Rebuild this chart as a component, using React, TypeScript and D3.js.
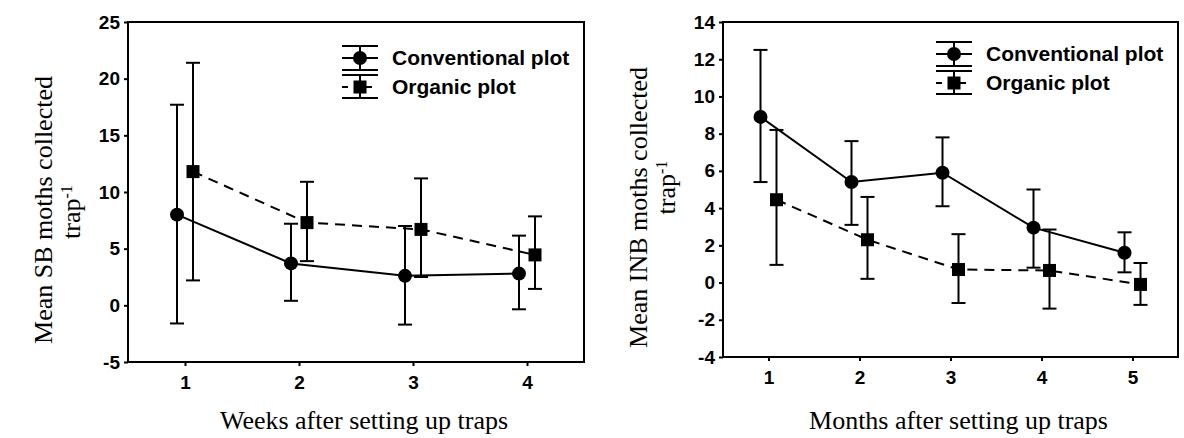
import React, { useEffect, useRef } from 'react';
import * as d3 from 'd3';

// left panel: SB moths, weeks
const weeks = [1, 2, 3, 4];
const sbConvMean = [8.0, 3.7, 2.6, 2.8];
const sbConvLow = [-1.6, 0.4, -1.7, -0.35];
const sbConvHigh = [17.7, 7.2, 7.0, 6.15];
const sbOrgMean = [11.8, 7.3, 6.7, 4.45];
const sbOrgLow = [2.2, 3.9, 2.5, 1.45];
const sbOrgHigh = [21.4, 10.9, 11.2, 7.85];
const sbTicks = [-5, 0, 5, 10, 15, 20, 25];

// right panel: INB moths, months
const months = [1, 2, 3, 4, 5];
const inbConvMean = [8.9, 5.4, 5.9, 2.95, 1.6];
const inbConvLow = [5.4, 3.1, 4.1, 0.8, 0.55];
const inbConvHigh = [12.5, 7.6, 7.8, 5.0, 2.7];
const inbOrgMean = [4.45, 2.3, 0.7, 0.65, -0.1];
const inbOrgLow = [0.95, 0.2, -1.1, -1.4, -1.2];
const inbOrgHigh = [8.2, 4.6, 2.6, 2.85, 1.05];
const inbTicks = [-4, -2, 0, 2, 4, 6, 8, 10, 12, 14];

const seriesNames = ['Conventional plot', 'Organic plot'];

const TICK_FONT = '"Liberation Sans", Arial, sans-serif';
const TITLE_FONT = '"Liberation Serif", "Times New Roman", serif';

type Panel = {
  x: number[];
  xDomain: [number, number];
  xRange: [number, number];
  yDomain: [number, number];
  yRange: [number, number];
  yTicks: number[];
  conv: number[][];
  org: number[][];
  xTitle: string;
  yTitle: string;
  legendTop: number;
  trapShift: number;
};

const panels: Panel[] = [
  {
    x: weeks,
    xDomain: [0.5, 4.5],
    xRange: [128, 584],
    yDomain: [-5, 25],
    yRange: [362, 22],
    yTicks: sbTicks,
    conv: [sbConvMean, sbConvLow, sbConvHigh],
    org: [sbOrgMean, sbOrgLow, sbOrgHigh],
    xTitle: 'Weeks after setting up traps',
    yTitle: 'Mean SB moths collected',
    legendTop: 46,
    trapShift: 2,
  },
  {
    x: months,
    xDomain: [0.5, 5.5],
    xRange: [723, 1178],
    yDomain: [-4, 14],
    yRange: [357, 22],
    yTicks: inbTicks,
    conv: [inbConvMean, inbConvLow, inbConvHigh],
    org: [inbOrgMean, inbOrgLow, inbOrgHigh],
    xTitle: 'Months after setting up traps',
    yTitle: 'Mean INB moths collected',
    legendTop: 42,
    trapShift: -20,
  },
];

const plainNum = (d: any) => String(d); // hyphen minus like the original

const App = () => {
  const svgRef = useRef<SVGSVGElement>(null);

  useEffect(() => {
    const svg = d3.select(svgRef.current);
    svg.selectAll('*').remove();

    panels.forEach(p => {
      const g = svg.append('g');
      const xs = d3.scaleLinear().domain(p.xDomain).range(p.xRange);
      const ys = d3.scaleLinear().domain(p.yDomain).range(p.yRange);
      const [x0, x1] = p.xRange;
      const [yb, yt] = p.yRange;

      // axes
      g.append('g')
        .attr('transform', `translate(0,${yb})`)
        .call(d3.axisBottom(xs).tickValues(p.x).tickFormat(plainNum).tickSize(4).tickPadding(10))
        .call(a => a.select('.domain').remove())
        .call(a => a.selectAll('line').attr('stroke', '#000').attr('stroke-width', 2))
        .call(a => a.selectAll('text').attr('font-family', TICK_FONT).attr('font-weight', 'bold').attr('font-size', 19).attr('fill', '#000'));

      g.append('g')
        .attr('transform', `translate(${x0},0)`)
        .call(d3.axisLeft(ys).tickValues(p.yTicks).tickFormat(plainNum).tickSize(4).tickPadding(4))
        .call(a => a.select('.domain').remove())
        .call(a => a.selectAll('line').attr('stroke', '#000').attr('stroke-width', 2))
        .call(a => a.selectAll('text').attr('font-family', TICK_FONT).attr('font-weight', 'bold').attr('font-size', 19).attr('fill', '#000'));

      // frame
      g.append('rect')
        .attr('x', x0).attr('y', yt)
        .attr('width', x1 - x0).attr('height', yb - yt)
        .attr('fill', 'none').attr('stroke', '#000').attr('stroke-width', 2);

      const pxPerUnit = xs(1) - xs(0);

      const drawSeries = (vals: number[][], offPx: number, dashed: boolean, square: boolean) => {
        const [mean, low, high] = vals;
        const off = offPx / pxPerUnit;
        const pts = p.x.map((v, i) => ({ x: v + off, m: mean[i], lo: low[i], hi: high[i] }));
        const line = d3.line<any>().x(d => xs(d.x)).y(d => ys(d.m));
        g.append('path')
          .datum(pts)
          .attr('d', line)
          .attr('fill', 'none')
          .attr('stroke', '#000')
          .attr('stroke-width', 2)
          .attr('stroke-dasharray', dashed ? '10,7' : null);

        const eb = g.append('g').selectAll('g').data(pts).enter().append('g');
        eb.append('line')
          .attr('x1', d => xs(d.x)).attr('x2', d => xs(d.x))
          .attr('y1', d => ys(d.lo)).attr('y2', d => ys(d.hi))
          .attr('stroke', '#000').attr('stroke-width', 2);
        ['lo', 'hi'].forEach(k => {
          eb.append('line')
            .attr('x1', d => xs(d.x) - 7).attr('x2', d => xs(d.x) + 7)
            .attr('y1', d => ys((d as any)[k])).attr('y2', d => ys((d as any)[k]))
            .attr('stroke', '#000').attr('stroke-width', 2);
        });
        if (square) {
          eb.append('rect')
            .attr('x', d => xs(d.x) - 6.5).attr('y', d => ys(d.m) - 6.5)
            .attr('width', 13).attr('height', 13).attr('fill', '#000');
        } else {
          eb.append('circle')
            .attr('cx', d => xs(d.x)).attr('cy', d => ys(d.m))
            .attr('r', 7).attr('fill', '#000');
        }
      };

      drawSeries(p.conv, -8, false, false);
      drawSeries(p.org, 8, true, true);

      // legend
      const lx = x1 - 224;
      const tx = x1 - 192;
      const lg = g.append('g');
      const t = p.legendTop;
      const entries = [
        { name: seriesNames[0], top: t, mid: t + 12, bot: t + 24, dashed: false, square: false },
        { name: seriesNames[1], top: t + 29, mid: t + 41, bot: t + 52, dashed: true, square: true },
      ];
      entries.forEach(e => {
        [e.top, e.bot].forEach(yy => {
          lg.append('line').attr('x1', lx - 18).attr('x2', lx + 18).attr('y1', yy).attr('y2', yy).attr('stroke', '#000').attr('stroke-width', 2);
        });
        lg.append('line').attr('x1', lx).attr('x2', lx).attr('y1', e.top).attr('y2', e.bot).attr('stroke', '#000').attr('stroke-width', 2);
        lg.append('line').attr('x1', lx - 18).attr('x2', lx + 18).attr('y1', e.mid).attr('y2', e.mid)
          .attr('stroke', '#000').attr('stroke-width', 2).attr('stroke-dasharray', e.dashed ? '6,6' : null);
        if (e.square) {
          lg.append('rect').attr('x', lx - 6.5).attr('y', e.mid - 6.5).attr('width', 13).attr('height', 13).attr('fill', '#000');
        } else {
          lg.append('circle').attr('cx', lx).attr('cy', e.mid).attr('r', 7).attr('fill', '#000');
        }
        lg.append('text')
          .attr('x', tx).attr('y', e.mid)
          .attr('dy', '0.35em')
          .attr('font-family', TICK_FONT).attr('font-weight', 'bold').attr('font-size', 21)
          .text(e.name);
      });

      // titles
      g.append('text')
        .attr('x', (x0 + x1) / 2 + 8).attr('y', 429)
        .attr('text-anchor', 'middle')
        .attr('font-family', TITLE_FONT).attr('font-size', 26)
        .text(p.xTitle);

      const yc = (yt + yb) / 2 + 18;
      g.append('text')
        .attr('transform', `translate(${x0 - 76},${yc}) rotate(-90)`)
        .attr('text-anchor', 'middle')
        .attr('font-family', TITLE_FONT).attr('font-size', 26)
        .text(p.yTitle);
      const yt2 = g.append('text')
        .attr('transform', `translate(${x0 - 48},${yc + p.trapShift}) rotate(-90)`)
        .attr('text-anchor', 'middle')
        .attr('font-family', TITLE_FONT).attr('font-size', 26);
      yt2.append('tspan').text('trap');
      yt2.append('tspan').attr('dy', '-0.5em').attr('font-size', 16).text('-1');
    });
  }, []);

  return (
    <svg ref={svgRef} width={1184} height={438} style={{ position: 'absolute', left: 0, top: 0, background: '#fff' }}></svg>
  );
};

export default App;
